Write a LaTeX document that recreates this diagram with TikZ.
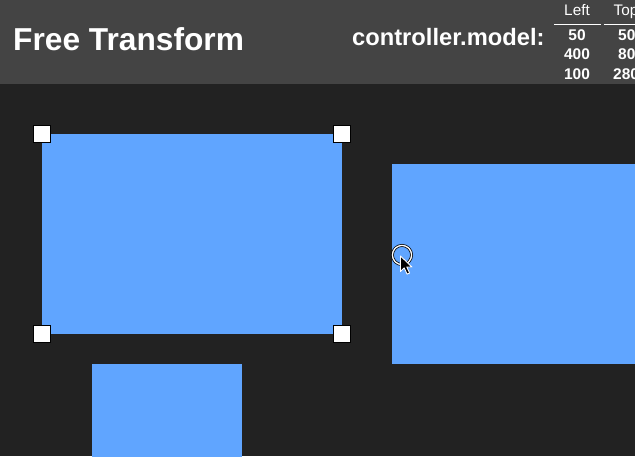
\documentclass[tikz,border=0pt]{standalone}
\usepackage{fontspec}
\setmainfont{Liberation Sans}
\definecolor{hdr}{HTML}{444444}
\definecolor{bg}{HTML}{222222}
\definecolor{boxblue}{HTML}{60A5FF}
\tikzset{
  box/.style={fill=boxblue, draw=none, inner sep=0pt, outer sep=0pt, anchor=north west},
  handle/.style={fill=white, draw=black, line width=1.2pt, minimum size=17pt, inner sep=0pt},
  txt/.style={text=white, inner sep=0pt, anchor=base},
  num/.style={txt, font=\bfseries\fontsize{15.5}{15.5}\selectfont},
  colhead/.style={txt, font=\fontsize{15.3}{15.3}\selectfont},
  rule/.style={draw=white, line width=1pt}
}
\begin{document}
\begin{tikzpicture}[x=1pt,y=-1pt]
\useasboundingbox (0,0) rectangle (635,456);
\clip (0,0) rectangle (635,456);
\fill[bg] (0,0) rectangle (635,456);
\fill[hdr] (0,0) rectangle (635,84);
% title
\node[txt, anchor=base west, font=\bfseries\fontsize{31.7}{31.7}\selectfont] (title) at (13,50) {Free Transform};
\node[txt, anchor=base west, font=\bfseries\fontsize{23.7}{23.7}\selectfont] (model) at (352,45) {controller.model:};
% table
\node[colhead] (hleft) at (577,15.5) {Left};
\node[colhead] (htop) at (626,15.5) {Top};
\coordinate (l1a) at (554,24); \coordinate (l1b) at (601,24);
\coordinate (l2a) at (604,24); \coordinate (l2b) at (660,24);
\draw[rule] (l1a) -- (l1b);
\draw[rule] (l2a) -- (l2b);
\node[num] (r1l) at (577,40) {50};
\node[num] (r2l) at (577,59.5) {400};
\node[num] (r3l) at (577,79.3) {100};
\node[num, anchor=base west] (r1t) at (618,40) {50};
\node[num, anchor=base west] (r2t) at (618,59.5) {80};
\node[num, anchor=base west] (r3t) at (613,79.3) {280};
% boxes
\node[box, minimum width=300pt, minimum height=200pt] (b1) at (42,134) {};
\node[box, minimum width=300pt, minimum height=200pt] (b2) at (392,164) {};
\node[box, minimum width=150pt, minimum height=200pt] (b3) at (92,364) {};
% handles
\node[handle] (h1) at (b1.north west) {};
\node[handle] (h2) at (b1.north east) {};
\node[handle] (h3) at (b1.south west) {};
\node[handle] (h4) at (b1.south east) {};
% cursor
\coordinate (cc) at (402,255);
\draw[black, line width=2.8pt] (cc) circle (9.6);
\draw[white, line width=1.3pt] (cc) circle (9.6);
\coordinate (tip) at (400.5,256);
\filldraw[fill=black, draw=white, line width=0.9pt, line join=round]
  (tip) -- ++(0,15.5) -- ++(3.7,-3.6) -- ++(2.9,6.2) -- ++(2.5,-1.1) -- ++(-2.8,-6) -- ++(5.1,0) -- cycle;
\end{tikzpicture}
\end{document}
